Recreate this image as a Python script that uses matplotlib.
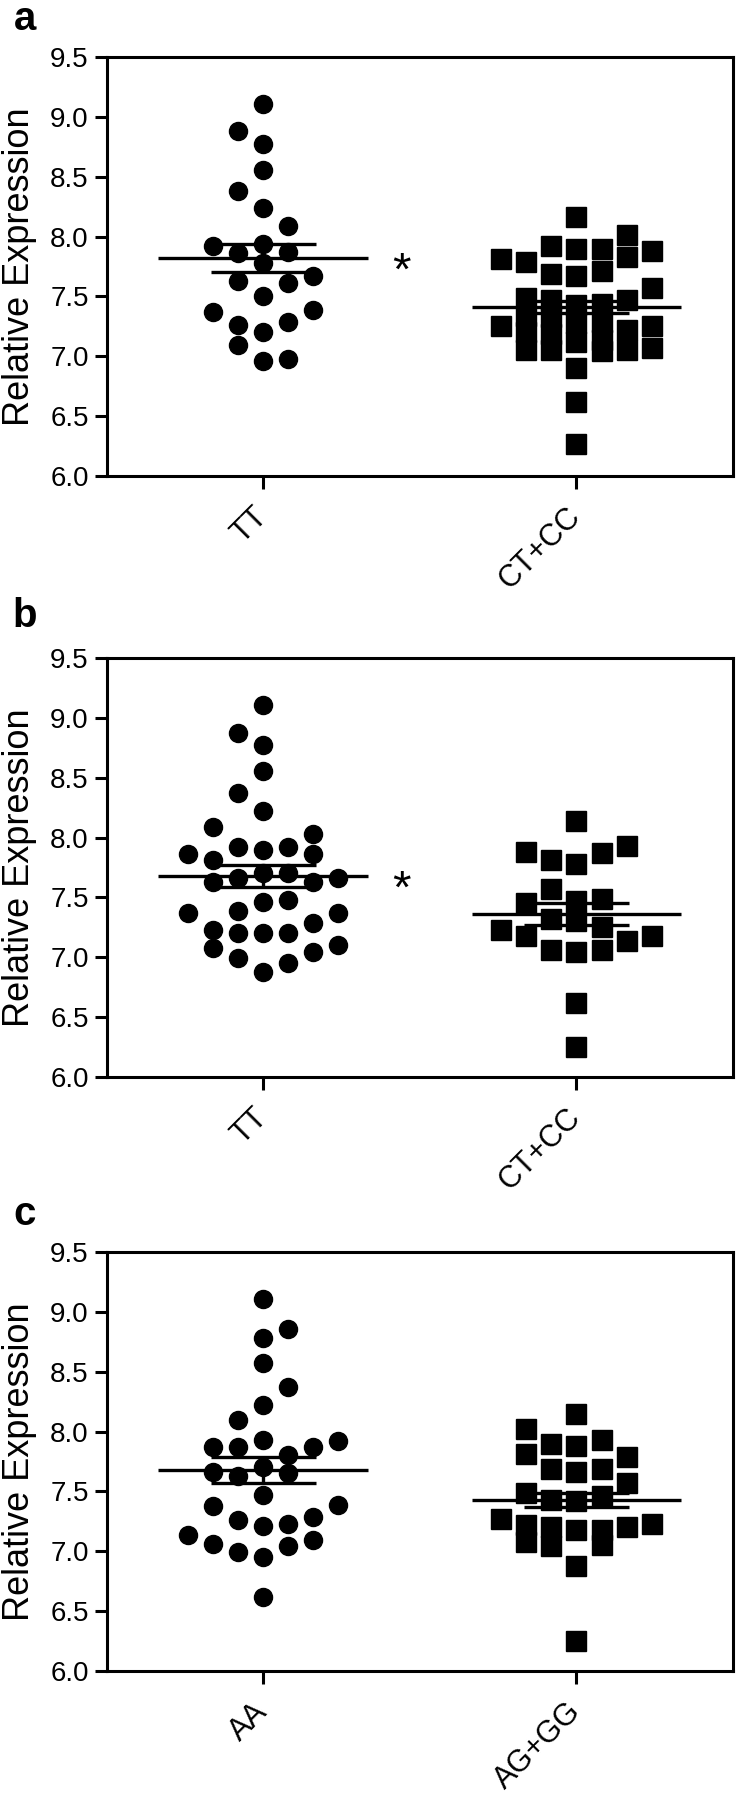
import numpy as np
import matplotlib.pyplot as plt

plt.rcParams['font.family'] = ['Liberation Sans', 'DejaVu Sans']

# ---- data ----
# each group: values and the swarm column each point sits in (-3..3)

# panel a
a_groups = ['TT', 'CT+CC']
a_tt_vals = [9.11, 8.88, 8.77, 8.56, 8.38, 8.24, 8.09, 7.92, 7.94, 7.86, 7.87, 7.78,
             7.63, 7.61, 7.67, 7.50, 7.37, 7.39, 7.26, 7.20, 7.29, 7.09, 6.96, 6.98]
a_tt_cols = [0, -1, 0, 0, -1, 0, 1, -2, 0, -1, 1, 0,
             -1, 1, 2, 0, -2, 2, -1, 0, 1, -1, 0, 1]
a_ct_vals = [8.16, 8.01, 7.92, 7.90, 7.90, 7.88, 7.81, 7.79, 7.83, 7.69, 7.67, 7.71,
             7.57, 7.49, 7.34, 7.20, 7.05, 7.47, 7.33, 7.19, 7.05, 7.43, 7.28, 7.12,
             7.44, 7.29, 7.14, 7.04, 7.47, 7.22, 7.05, 7.25, 7.07, 7.25, 6.90, 6.62, 6.27]
a_ct_cols = [0, 2, -1, 0, 1, 3, -3, -2, 2, -1, 0, 1,
             3, -2, -2, -2, -2, -1, -1, -1, -1, 0, 0, 0,
             1, 1, 1, 1, 2, 2, 2, 3, 3, -3, 0, 0, 0]
a_means = [7.82, 7.41]
a_sems = [0.12, 0.05]

# panel b
b_groups = ['TT', 'CT+CC']
b_tt_vals = [9.11, 8.87, 8.77, 8.56, 8.37, 8.22, 8.09, 8.03, 7.86, 7.92, 7.90, 7.92,
             7.86, 7.81, 7.63, 7.66, 7.70, 7.70, 7.63, 7.66, 7.46, 7.48, 7.37, 7.39,
             7.37, 7.29, 7.23, 7.20, 7.20, 7.20, 7.08, 7.10, 7.04, 6.99, 6.95, 6.88]
b_tt_cols = [0, -1, 0, 0, -1, 0, -2, 2, -3, -1, 0, 1,
             2, -2, -2, -1, 0, 1, 2, 3, 0, 1, -3, -1,
             3, 2, -2, -1, 0, 1, -2, 3, 2, -1, 1, 0]
b_ct_vals = [8.14, 7.93, 7.88, 7.87, 7.81, 7.78, 7.57, 7.45, 7.18, 7.47, 7.30,
             7.49, 7.25, 7.32, 7.23, 7.14, 7.18, 7.06, 7.04, 7.06, 6.62, 6.25]
b_ct_cols = [0, 2, -2, 1, -1, 0, -1, -2, -2, 0, 0,
             1, 1, -1, -3, 2, 3, -1, 0, 1, 0, 0]
b_means = [7.68, 7.36]
b_sems = [0.09, 0.09]

# panel c
c_groups = ['AA', 'AG+GG']
c_aa_vals = [9.11, 8.86, 8.78, 8.57, 8.37, 8.22, 8.10, 7.93, 7.92, 7.87, 7.87, 7.87,
             7.80, 7.66, 7.63, 7.70, 7.65, 7.47, 7.38, 7.39, 7.26, 7.21, 7.23, 7.29,
             7.14, 7.06, 6.99, 6.95, 7.04, 7.09, 6.62]
c_aa_cols = [0, 1, 0, 0, 1, 0, -1, 0, 3, -2, -1, 2,
             1, -2, -1, 0, 1, 0, -2, 3, -1, 0, 1, 2,
             -3, -2, -1, 0, 1, 2, 0]
c_ag_vals = [8.15, 8.02, 7.93, 7.90, 7.88, 7.79, 7.81, 7.69, 7.66, 7.69, 7.57,
             7.49, 7.43, 7.42, 7.46, 7.27, 7.22, 7.08, 7.20, 7.04, 7.18, 7.18,
             7.05, 7.20, 7.23, 6.88, 6.25]
c_ag_cols = [0, -2, 1, -1, 0, 2, -2, -1, 0, 1, 2,
             -2, -1, 0, 1, -3, -2, -2, -1, -1, 0, 1,
             1, 2, 3, 0, 0]
c_means = [7.68, 7.43]
c_sems = [0.11, 0.06]

ticks = np.arange(6.0, 9.51, 0.5)
step = 0.08
lw = 2.2

fig = plt.figure(figsize=(7.4, 18), dpi=100)


def draw_panel(bottom, letter, letter_y, groups, vals, cols, means, sems, star):
    ax = fig.add_axes([0.1442, bottom, 0.8464, 0.2328])
    markers = ['o', 's']
    sizes = [13, 14]
    for i in range(2):
        x = i + np.array(cols[i]) * step
        ax.plot(x, vals[i], linestyle='none', marker=markers[i], ms=sizes[i],
                color='black', mec='black', zorder=2)
        m, s = means[i], sems[i]
        ax.hlines(m, i - 0.335, i + 0.335, color='black', lw=2.4, zorder=3)
        ax.hlines([m - s, m + s], i - 0.167, i + 0.167, color='black', lw=2.4, zorder=3)
        ax.vlines(i, m - s, m + s, color='black', lw=2.4, zorder=3)
    if star:
        ax.text(0.44, means[0] - 0.12, '*', fontsize=34, ha='center', va='center')

    ax.set_xlim(-0.5, 1.5)
    ax.set_ylim(6.0, 9.5)
    ax.set_yticks(ticks)
    ax.set_yticklabels(['%.1f' % t for t in ticks])
    ax.set_xticks([0, 1])
    ax.set_xticklabels(groups, rotation=45, ha='right', va='center',
                       rotation_mode='anchor')
    for sp in ax.spines.values():
        sp.set_linewidth(lw)
    ax.tick_params(axis='both', direction='out', length=9, width=lw, colors='black')
    ax.tick_params(axis='y', pad=4, labelsize=20)
    ax.tick_params(axis='x', pad=17, labelsize=22)

    fig.text(20 / 740, bottom + 0.2328 / 2, 'Relative Expression', rotation=90,
             ha='center', va='center', fontsize=26)
    fig.text(25 / 740, 1 - letter_y / 1800, letter, fontsize=29,
             fontweight='bold', ha='center', va='baseline')
    return ax


draw_panel(1 - 476 / 1800, 'a', 30, a_groups, [a_tt_vals, a_ct_vals],
           [a_tt_cols, a_ct_cols], a_means, a_sems, True)
draw_panel(1 - 1077 / 1800, 'b', 627, b_groups, [b_tt_vals, b_ct_vals],
           [b_tt_cols, b_ct_cols], b_means, b_sems, True)
draw_panel(1 - 1671 / 1800, 'c', 1225, c_groups, [c_aa_vals, c_ag_vals],
           [c_aa_cols, c_ag_cols], c_means, c_sems, False)

fig.savefig('out.png', dpi=100)
